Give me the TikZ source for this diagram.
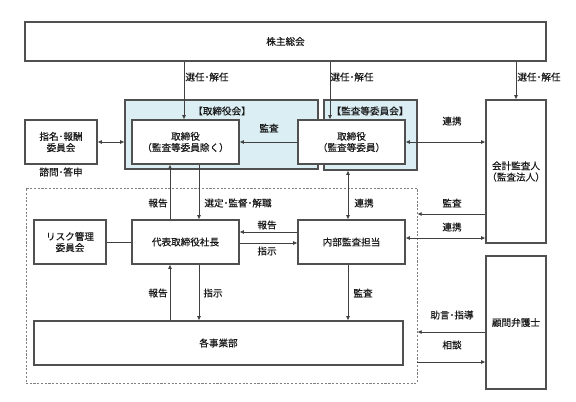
\documentclass[tikz,border=0pt]{standalone}
\usepackage{fontspec}
\setmainfont[FakeBold=0.4]{Noto Sans CJK JP}
\usetikzlibrary{arrows.meta}
\definecolor{ln}{HTML}{404040}
\definecolor{bx}{HTML}{505050}
\definecolor{bl}{HTML}{DAEEF3}
\tikzset{
  box/.style={draw=bx, line width=0.8pt, fill=white, align=center, inner sep=0pt},
  blue/.style={draw=bx, line width=0.8pt, fill=bl, inner sep=0pt},
  grpbox/.style={draw=gray, line width=0.6pt, dash pattern=on 1.6pt off 1.2pt, inner sep=0pt},
  arr/.style={draw=ln, line width=0.6pt, -{Latex[length=3.2pt,width=3pt]}},
  barr/.style={draw=ln, line width=0.6pt, {Latex[length=3.2pt,width=3pt]}-{Latex[length=3.2pt,width=3pt]}},
  plain/.style={draw=ln, line width=0.6pt},
  lbl/.style={inner sep=0pt, align=center},
}
\begin{document}
\begin{tikzpicture}[x=0.75pt,y=-0.75pt,font=\fontsize{7.2pt}{8.4pt}\selectfont, text=black!90]
\useasboundingbox (0,0) rectangle (576,401);
% group boxes
\node[grpbox, minimum width=293.25pt, minimum height=146.25pt] (grp) at (221.5,285.5) {};
\node[blue, minimum width=144.75pt, minimum height=51.75pt] (bod) at (221.5,134.5) {};
\node[blue, minimum width=69.75pt, minimum height=52.5pt] (acb) at (370.5,135) {};
\node[lbl] (bodt) at (222,111) {【取締役会】};
\node[lbl] (acbt) at (370,111) {【監査等委員会】};
% boxes
\node[box, minimum width=390.75pt, minimum height=29.25pt] (soukai) at (285.5,41.5) {株主総会};
\node[box, minimum width=80.25pt, minimum height=33pt] (tori1) at (185.5,142) {取締役\\（監査等委員除く）};
\node[box, minimum width=80.25pt, minimum height=33pt] (tori2) at (351.5,142) {取締役\\（監査等委員）};
\node[box, minimum width=54pt, minimum height=33pt] (shimei) at (61,142) {指名･報酬\\委員会};
\node[box, minimum width=45pt, minimum height=107.25pt] (kaikei) at (516,171.5) {会計監査人\\（監査法人）};
\node[box, minimum width=45pt, minimum height=99.75pt] (komon) at (516,322.5) {顧問弁護士};
\node[box, minimum width=54pt, minimum height=33pt] (risk) at (70,242) {リスク管理\\委員会};
\node[box, minimum width=80.25pt, minimum height=33pt] (daihyo) at (185.5,242) {代表取締役社長};
\node[box, minimum width=80.25pt, minimum height=33pt] (naibu) at (351.5,242) {内部監査担当};
\node[box, minimum width=276.75pt, minimum height=33pt] (jigyo) at (218.5,343) {各事業部};
% column / row coordinates
\coordinate (c170) at (170,0);
\coordinate (c184) at (184,0);
\coordinate (c199) at (199,0);
\coordinate (c330) at (330,0);
\coordinate (c348) at (348,0);
\coordinate (c516) at (516,0);
\coordinate (r142) at (0,142);
\coordinate (r214) at (0,214);
\coordinate (r232) at (0,232);
\coordinate (r238) at (0,238);
\coordinate (r243) at (0,243);
\coordinate (r332) at (0,332);
\coordinate (r362) at (0,362);
% connectors
\draw[arr] (soukai.south -| c184) -- (tori1.north -| c184);
\draw[arr] (soukai.south -| c330) -- (tori2.north -| c330);
\draw[arr] (soukai.south -| c516) -- (kaikei.north -| c516);
\draw[barr] (shimei.east |- r142) -- (bod.west |- r142);
\draw[arr] (tori2.west |- r142) -- (tori1.east |- r142);
\draw[barr] (tori2.east |- r142) -- (kaikei.west |- r142);
\draw[arr] (daihyo.north -| c170) -- (tori1.south -| c170);
\draw[arr] (tori1.south -| c199) -- (daihyo.north -| c199);
\draw[barr] (naibu.north -| c348) -- (acb.south -| c348);
\draw[arr] (naibu.west |- r232) -- (daihyo.east |- r232);
\draw[arr] (daihyo.east |- r243) -- (naibu.west |- r243);
\draw[plain] (risk.east) -- (daihyo.west);
\draw[arr] (jigyo.north -| c170) -- (daihyo.south -| c170);
\draw[arr] (daihyo.south -| c199) -- (jigyo.north -| c199);
\draw[arr] (naibu.south -| c348) -- (jigyo.north -| c348);
\draw[arr] (kaikei.west |- r214) -- (grp.east |- r214);
\draw[barr] (naibu.east |- r238) -- (kaikei.west |- r238);
\draw[arr] (komon.west |- r332) -- (grp.east |- r332);
\draw[arr] (grp.east |- r362) -- (komon.west |- r362);
% labels
\node[lbl] (l1) at (207,77) {選任･解任};
\node[lbl] (l2) at (352,77) {選任･解任};
\node[lbl] (l3) at (539,77) {選任･解任};
\node[lbl] (l4) at (269,128) {監査};
\node[lbl] (l5) at (452,121) {連携};
\node[lbl] (l6) at (61,172) {諮問･答申};
\node[lbl] (l7) at (158,203) {報告};
\node[lbl] (l8) at (238,203) {選定･監督･解職};
\node[lbl] (l9) at (364,203) {連携};
\node[lbl] (l10) at (452,203) {監査};
\node[lbl] (l11) at (267,225) {報告};
\node[lbl] (l12) at (267,251) {指示};
\node[lbl] (l13) at (452,227) {連携};
\node[lbl] (l14) at (158,293) {報告};
\node[lbl] (l15) at (213,293) {指示};
\node[lbl] (l16) at (363,293) {監査};
\node[lbl] (l17) at (452,315) {助言･指導};
\node[lbl] (l18) at (452,345) {相談};
\end{tikzpicture}
\end{document}
